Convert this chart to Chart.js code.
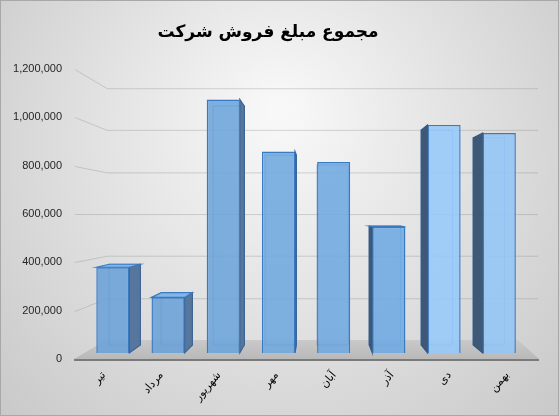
<!DOCTYPE html>
<html>
<head>
<meta charset="utf-8">
<script src="https://cdn.jsdelivr.net/npm/chart.js@4"></script>
<style>
  html, body { margin: 0; padding: 0; background: #d6d6d6; }
  canvas { display: block; }
</style>
</head>
<body>
<canvas id="salesChart" width="559" height="416"></canvas>
<script>
// chart data
const chartTitle = 'مجموع مبلغ فروش شرکت';
const months = ['تیر', 'مرداد', 'شهریور', 'مهر', 'آبان', 'آذر', 'دی', 'بهمن'];
const sales = [370000, 240000, 1095000, 870000, 825000, 545000, 985000, 950000];
const yTicks = [0, 200000, 400000, 600000, 800000, 1000000, 1200000];

// bar look (front faces get lighter towards the right, like the Excel render)
const faceColors = ['#6aa2d8', '#6aa2d8', '#6ca5db', '#6ea7de', '#6fa8e0', '#70aae2', '#95c9fa', '#93c6f7'];
const edgeColor = '#3a7ac2';

// fake perspective: everything shrinks toward a vanishing point
const VP = { x: 319, y: 215 };
const FRONT = 0.958;   // depth of the bars' front faces
const DEPTH = 0.942;   // bar back face relative to front face
const WALL = 0.868;    // back wall

function toward(p, k) {
    return { x: VP.x + (p.x - VP.x) * k, y: VP.y + (p.y - VP.y) * k };
}

function poly(ctx, pts, fill, stroke) {
    ctx.beginPath();
    ctx.moveTo(pts[0].x, pts[0].y);
    for (let i = 1; i < pts.length; i++) ctx.lineTo(pts[i].x, pts[i].y);
    ctx.closePath();
    if (fill) { ctx.fillStyle = fill; ctx.fill(); }
    if (stroke) { ctx.strokeStyle = stroke; ctx.stroke(); }
}

const backgroundPlugin = {
    id: 'excelBackground',
    beforeDraw(chart) {
        const { ctx, width, height } = chart;
        const g = ctx.createRadialGradient(width / 2, 110, 10, width / 2, 170, 430);
        g.addColorStop(0, '#f8f8f8');
        g.addColorStop(1, '#c2c2c2');
        ctx.save();
        ctx.fillStyle = g;
        ctx.fillRect(0, 0, width, height);
        ctx.strokeStyle = '#a8a8a8';
        ctx.lineWidth = 1;
        ctx.strokeRect(0.5, 0.5, width - 1, height - 1);
        ctx.restore();
    }
};

const box3dPlugin = {
    id: 'box3d',
    beforeDatasetsDraw(chart) {
        const { ctx, chartArea } = chart;
        const yScale = chart.scales.y;
        const zero = yScale.getPixelForValue(0);

        // walls: gridlines run along the left wall, then across the back wall
        ctx.save();
        ctx.lineWidth = 1;
        ctx.strokeStyle = 'rgba(140,140,140,0.35)';
        yScale.ticks.forEach(t => {
            const yv = Math.round(yScale.getPixelForValue(t.value)) + 0.5;
            const front = { x: chartArea.left, y: yv };
            const back = toward(front, WALL);
            if (t.value === 0) return;
            ctx.beginPath();
            ctx.moveTo(front.x, front.y);
            ctx.lineTo(back.x, back.y);
            ctx.lineTo(chartArea.right + 2, back.y);
            ctx.stroke();
        });

        // floor
        const fl = { x: chartArea.left - 1, y: zero };
        const fr = { x: chartArea.right + 3, y: zero };
        const bl = toward(fl, WALL);
        const br = { x: chartArea.right - 18, y: bl.y };
        const fg = ctx.createLinearGradient(0, bl.y, 0, zero);
        fg.addColorStop(0, '#c9c9c9');
        fg.addColorStop(1, '#b9b9b9');
        poly(ctx, [fl, bl, br, fr], fg, null);
        ctx.strokeStyle = '#7a7a7a';
        ctx.lineWidth = 2;
        ctx.beginPath();
        ctx.moveTo(fl.x, zero + 1);
        ctx.lineTo(fr.x, zero + 1);
        ctx.stroke();
        ctx.restore();

        // bar sides/tops, drawn in the front-face depth
        ctx.save();
        ctx.translate(VP.x, VP.y);
        ctx.scale(FRONT, FRONT);
        ctx.translate(-VP.x, -VP.y);
        ctx.lineWidth = 1.2;
        const meta = chart.getDatasetMeta(0);
        meta.data.forEach(bar => {
            const p = bar.getProps(['x', 'y', 'base', 'width'], true);
            const xl = p.x - p.width / 2, xr = p.x + p.width / 2;
            const ftl = { x: xl, y: p.y }, ftr = { x: xr, y: p.y };
            const fbl = { x: xl, y: p.base }, fbr = { x: xr, y: p.base };
            const btl = toward(ftl, DEPTH), btr = toward(ftr, DEPTH);
            const bbl = toward(fbl, DEPTH), bbr = toward(fbr, DEPTH);

            // back edges, seen through the translucent front
            poly(ctx, [btl, btr, bbr, bbl], null, 'rgba(60,125,200,0.6)');

            if (xr < VP.x) {
                poly(ctx, [ftr, btr, bbr, fbr], '#56769e', '#3c6494');
            } else if (xl > VP.x) {
                poly(ctx, [ftl, btl, bbl, fbl], '#3f5876', '#34577f');
            }
            if (p.y > VP.y) {
                poly(ctx, [ftl, btl, btr, ftr], '#85b5e6', edgeColor);
            }
        });
    },
    afterDatasetsDraw(chart) {
        chart.ctx.restore();
    }
};

new Chart(document.getElementById('salesChart'), {
    type: 'bar',
    data: {
        labels: months,
        datasets: [{
            data: sales,
            backgroundColor: ctx => faceColors[ctx.dataIndex] + 'e0',
            borderColor: edgeColor,
            borderWidth: 1.5,
            barPercentage: 0.6,
            categoryPercentage: 1,
            clip: false
        }]
    },
    options: {
        responsive: false,
        animation: false,
        devicePixelRatio: 1,
        layout: { padding: { top: 0, right: 23, bottom: 0, left: 0 } },
        plugins: {
            legend: { display: false },
            tooltip: { enabled: false },
            title: {
                display: true,
                text: chartTitle,
                color: '#000',
                font: { family: 'DejaVu Sans', size: 17, weight: 'bold' },
                padding: { top: 22, bottom: 26.6 }
            }
        },
        scales: {
            x: {
                grid: { display: false },
                border: { display: false },
                ticks: {
                    color: '#000',
                    font: { family: 'DejaVu Sans', size: 11 },
                    minRotation: 50,
                    maxRotation: 50,
                    padding: 2
                },
                afterFit: scale => { scale.height = 57; }
            },
            y: {
                min: 0,
                max: 1200000,
                grid: { display: false },
                border: { display: false },
                afterBuildTicks: scale => { scale.ticks = yTicks.map(v => ({ value: v })); },
                ticks: {
                    color: '#262626',
                    font: { family: 'Liberation Sans', size: 11 },
                    padding: 5,
                    callback: v => v.toLocaleString('en-US')
                },
                afterFit: scale => { scale.width = 75; }
            }
        }
    },
    plugins: [backgroundPlugin, box3dPlugin]
});
</script>
</body>
</html>
